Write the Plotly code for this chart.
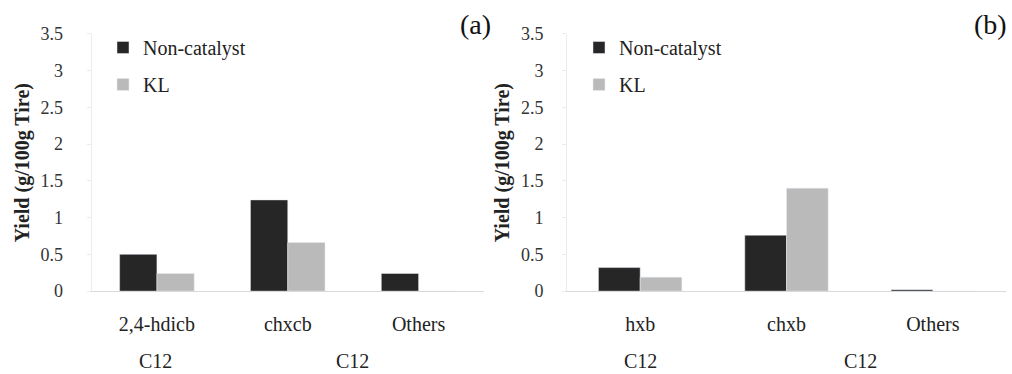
import plotly.graph_objects as go

cats_a = ["2,4-hdicb", "chxcb", "Others"]
cats_b = ["hxb", "chxb", "Others"]
nc_a = [0.50, 1.24, 0.24]
kl_a = [0.24, 0.66, 0.0]
nc_b = [0.32, 0.76, 0.02]
kl_b = [0.19, 1.40, 0.0]
series_names = ["Non-catalyst", "KL"]
y_ticks = [0, 0.5, 1, 1.5, 2, 2.5, 3, 3.5]
y_ticktext = ["0", "0.5", "1", "1.5", "2", "2.5", "3", "3.5"]
group_labels = ["C12", "C12"]
panel_labels = ["(a)", "(b)"]
y_title = "Yield (g/100g Tire)"

W, H = 1012, 374
FONT = "Liberation Serif"
DARK = "#262626"
LIGHT = "#bababa"

fig = go.Figure()
fig.add_trace(go.Bar(x=cats_a, y=nc_a, name=series_names[0], marker_color=DARK,
                     xaxis="x", yaxis="y", legend="legend", legendgroup="a1"))
fig.add_trace(go.Bar(x=cats_a, y=kl_a, name=series_names[1], marker_color=LIGHT,
                     xaxis="x", yaxis="y", legend="legend", legendgroup="a2"))
fig.add_trace(go.Bar(x=cats_b, y=nc_b, name=series_names[0], marker_color=DARK,
                     xaxis="x2", yaxis="y2", legend="legend2", legendgroup="b1"))
fig.add_trace(go.Bar(x=cats_b, y=kl_b, name=series_names[1], marker_color=LIGHT,
                     xaxis="x2", yaxis="y2", legend="legend2", legendgroup="b2"))

def px(x):
    return x / W

def py(y):
    return (H - y) / H

ydom = [py(297), py(25)]
xdom_a = [px(91.5), px(484)]
xdom_b = [px(567), px(1006)]

xcommon = dict(type="category", showline=True, linecolor="#d9d9d9", linewidth=1,
               ticks="", showgrid=False, zeroline=False,
               tickfont=dict(family=FONT, size=20, color="#222"), ticklabelstandoff=15)
ycommon = dict(range=[0, 3.5], tickvals=y_ticks, ticktext=y_ticktext,
               showline=True, linecolor="#ececec", linewidth=1, ticks="outside",
               tickcolor="#ececec", ticklen=4, showgrid=False, zeroline=False,
               tickfont=dict(family=FONT, size=18, color="#333"))

legfont = dict(family=FONT, size=20, color="#222")
layout = dict(
    width=W, height=H, margin=dict(l=0, r=0, t=0, b=0),
    paper_bgcolor="white", plot_bgcolor="white",
    barmode="group", bargap=0.43, bargroupgap=0,
    font=dict(family=FONT, color="#222"),
    xaxis=dict(domain=xdom_a, anchor="y", **xcommon),
    yaxis=dict(domain=ydom, anchor="x", ticklabelstandoff=20, **ycommon),
    xaxis2=dict(domain=xdom_b, anchor="y2", **xcommon),
    yaxis2=dict(domain=ydom, anchor="x2", ticklabelstandoff=15, **ycommon),
    legend=dict(x=px(103), y=py(19), xanchor="left", yanchor="top", font=legfont,
                bgcolor="rgba(0,0,0,0)", tracegroupgap=8, itemwidth=30),
    legend2=dict(x=px(579), y=py(19), xanchor="left", yanchor="top", font=legfont,
                 bgcolor="rgba(0,0,0,0)", tracegroupgap=8, itemwidth=30),
)
fig.update_layout(**layout)

ann = []
for xp, txt in zip([22, 502], [y_title, y_title]):
    ann.append(dict(x=px(xp), y=py(162), xref="paper", yref="paper", text="<b>%s</b>" % txt,
                    textangle=-90, showarrow=False, xanchor="center", yanchor="middle",
                    font=dict(family=FONT, size=20, color="#222")))
for xp, txt in zip([155, 352, 640, 860], group_labels * 2):
    ann.append(dict(x=px(xp), y=py(371), xref="paper", yref="paper", text=txt,
                    showarrow=False, xanchor="center", yanchor="middle",
                    font=dict(family=FONT, size=20, color="#222")))
for xp, txt in zip([475, 990], panel_labels):
    ann.append(dict(x=px(xp), y=py(15), xref="paper", yref="paper", text=txt,
                    showarrow=False, xanchor="center", yanchor="middle",
                    font=dict(family=FONT, size=28, color="#111")))
fig.update_layout(annotations=ann)

fig.write_html("out.html")
